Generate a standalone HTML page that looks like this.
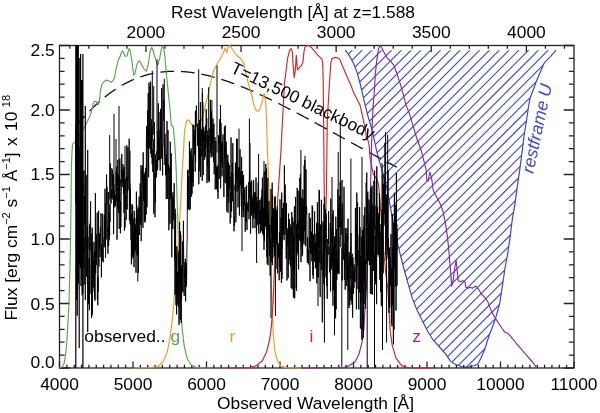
<!DOCTYPE html>
<html><head><meta charset="utf-8"><style>
html,body{margin:0;padding:0;background:#fff;width:600px;height:413px;overflow:hidden}
svg{display:block;will-change:transform}
</style></head><body>
<svg width="600" height="413" viewBox="0 0 600 413"><defs><clipPath id="bc"><path d="M345.20 50.20 L348.30 54.10 L351.40 59.20 L354.40 65.30 L357.00 72.40 L359.00 79.50 L360.50 85.00 L364.00 100.30 L367.80 115.50 L371.60 128.30 L374.20 139.70 L376.70 151.20 L379.30 161.30 L380.90 166.00 L383.30 174.50 L387.00 189.00 L390.60 208.40 L394.20 227.80 L397.80 244.70 L400.40 255.00 L403.70 268.00 L408.00 283.30 L412.40 298.60 L416.80 309.50 L422.20 320.40 L427.70 331.30 L433.10 340.00 L438.70 346.00 L446.30 354.90 L450.60 361.40 L456.00 364.70 L462.50 366.80 L467.90 367.30 L473.30 365.80 L477.70 364.20 L480.90 358.20 L485.00 348.50 L487.40 340.80 L489.60 334.30 L491.30 330.00 L495.40 318.80 L499.70 303.60 L503.00 281.80 L505.00 268.00 L507.50 255.00 L510.60 233.60 L512.00 221.30 L514.70 205.30 L517.30 186.70 L520.00 168.00 L522.10 152.00 L524.30 134.00 L526.60 120.00 L528.30 108.00 L530.00 98.30 L532.00 93.00 L534.00 87.70 L536.00 82.30 L538.70 75.70 L541.30 69.70 L543.30 65.00 L544.70 62.30 L546.70 60.30 L550.70 56.30 L556.00 50.20Z"/></clipPath></defs>
<path d="M1.09 372L333.09 40 M10.88 372L342.88 40 M20.68 372L352.68 40 M30.48 372L362.48 40 M40.27 372L372.27 40 M50.07 372L382.07 40 M59.87 372L391.87 40 M69.67 372L401.67 40 M79.46 372L411.46 40 M89.26 372L421.26 40 M99.06 372L431.06 40 M108.85 372L440.85 40 M118.65 372L450.65 40 M128.45 372L460.45 40 M138.24 372L470.24 40 M148.04 372L480.04 40 M157.84 372L489.84 40 M167.63 372L499.63 40 M177.43 372L509.43 40 M187.23 372L519.23 40 M197.03 372L529.03 40 M206.82 372L538.82 40 M216.62 372L548.62 40 M226.42 372L558.42 40 M236.21 372L568.21 40 M246.01 372L578.01 40 M255.81 372L587.81 40 M265.61 372L597.61 40 M275.40 372L607.40 40 M285.20 372L617.20 40 M295.00 372L627.00 40 M304.79 372L636.79 40 M314.59 372L646.59 40 M324.39 372L656.39 40 M334.18 372L666.18 40 M343.98 372L675.98 40 M353.78 372L685.78 40 M363.58 372L695.58 40 M373.37 372L705.37 40 M383.17 372L715.17 40 M392.97 372L724.97 40 M402.76 372L734.76 40 M412.56 372L744.56 40 M422.36 372L754.36 40 M432.15 372L764.15 40 M441.95 372L773.95 40 M451.75 372L783.75 40 M461.54 372L793.54 40 M471.34 372L803.34 40 M481.14 372L813.14 40 M490.94 372L822.94 40 M500.73 372L832.73 40 M510.53 372L842.53 40 M520.33 372L852.33 40 M530.12 372L862.12 40 M539.92 372L871.92 40 M549.72 372L881.72 40 M559.51 372L891.51 40" stroke="rgb(58,72,198)" stroke-width="1.1" fill="none" clip-path="url(#bc)"/>
<path d="M345.20 50.20 L348.30 54.10 L351.40 59.20 L354.40 65.30 L357.00 72.40 L359.00 79.50 L360.50 85.00 L364.00 100.30 L367.80 115.50 L371.60 128.30 L374.20 139.70 L376.70 151.20 L379.30 161.30 L380.90 166.00 L383.30 174.50 L387.00 189.00 L390.60 208.40 L394.20 227.80 L397.80 244.70 L400.40 255.00 L403.70 268.00 L408.00 283.30 L412.40 298.60 L416.80 309.50 L422.20 320.40 L427.70 331.30 L433.10 340.00 L438.70 346.00 L446.30 354.90 L450.60 361.40 L456.00 364.70 L462.50 366.80 L467.90 367.30 L473.30 365.80 L477.70 364.20 L480.90 358.20 L485.00 348.50 L487.40 340.80 L489.60 334.30 L491.30 330.00 L495.40 318.80 L499.70 303.60 L503.00 281.80 L505.00 268.00 L507.50 255.00 L510.60 233.60 L512.00 221.30 L514.70 205.30 L517.30 186.70 L520.00 168.00 L522.10 152.00 L524.30 134.00 L526.60 120.00 L528.30 108.00 L530.00 98.30 L532.00 93.00 L534.00 87.70 L536.00 82.30 L538.70 75.70 L541.30 69.70 L543.30 65.00 L544.70 62.30 L546.70 60.30 L550.70 56.30 L556.00 50.20" stroke="rgb(58,72,198)" stroke-width="1.2" fill="none"/>
<path d="M59.50 368.00v-6.5 M66.85 368.00v-3.3 M74.20 368.00v-3.3 M81.55 368.00v-3.3 M88.90 368.00v-3.3 M96.25 368.00v-3.3 M103.60 368.00v-3.3 M110.95 368.00v-3.3 M118.30 368.00v-3.3 M125.65 368.00v-3.3 M133.00 368.00v-6.5 M140.35 368.00v-3.3 M147.70 368.00v-3.3 M155.05 368.00v-3.3 M162.40 368.00v-3.3 M169.75 368.00v-3.3 M177.10 368.00v-3.3 M184.45 368.00v-3.3 M191.80 368.00v-3.3 M199.15 368.00v-3.3 M206.50 368.00v-6.5 M213.85 368.00v-3.3 M221.20 368.00v-3.3 M228.55 368.00v-3.3 M235.90 368.00v-3.3 M243.25 368.00v-3.3 M250.60 368.00v-3.3 M257.95 368.00v-3.3 M265.30 368.00v-3.3 M272.65 368.00v-3.3 M280.00 368.00v-6.5 M287.35 368.00v-3.3 M294.70 368.00v-3.3 M302.05 368.00v-3.3 M309.40 368.00v-3.3 M316.75 368.00v-3.3 M324.10 368.00v-3.3 M331.45 368.00v-3.3 M338.80 368.00v-3.3 M346.15 368.00v-3.3 M353.50 368.00v-6.5 M360.85 368.00v-3.3 M368.20 368.00v-3.3 M375.55 368.00v-3.3 M382.90 368.00v-3.3 M390.25 368.00v-3.3 M397.60 368.00v-3.3 M404.95 368.00v-3.3 M412.30 368.00v-3.3 M419.65 368.00v-3.3 M427.00 368.00v-6.5 M434.35 368.00v-3.3 M441.70 368.00v-3.3 M449.05 368.00v-3.3 M456.40 368.00v-3.3 M463.75 368.00v-3.3 M471.10 368.00v-3.3 M478.45 368.00v-3.3 M485.80 368.00v-3.3 M493.15 368.00v-3.3 M500.50 368.00v-6.5 M507.85 368.00v-3.3 M515.20 368.00v-3.3 M522.55 368.00v-3.3 M529.90 368.00v-3.3 M537.25 368.00v-3.3 M544.60 368.00v-3.3 M551.95 368.00v-3.3 M559.30 368.00v-3.3 M566.65 368.00v-3.3 M574.00 368.00v-6.5 M69.85 45.50v3.3 M88.87 45.50v3.3 M107.89 45.50v3.3 M126.91 45.50v3.3 M145.94 45.50v6.5 M164.96 45.50v3.3 M183.98 45.50v3.3 M203.00 45.50v3.3 M222.02 45.50v3.3 M241.04 45.50v6.5 M260.07 45.50v3.3 M279.09 45.50v3.3 M298.11 45.50v3.3 M317.13 45.50v3.3 M336.15 45.50v6.5 M355.18 45.50v3.3 M374.20 45.50v3.3 M393.22 45.50v3.3 M412.24 45.50v3.3 M431.26 45.50v6.5 M450.28 45.50v3.3 M469.31 45.50v3.3 M488.33 45.50v3.3 M507.35 45.50v3.3 M526.37 45.50v6.5 M545.39 45.50v3.3 M564.42 45.50v3.3 M59.50 368.00h10.3 M574.00 368.00h-10.3 M59.50 355.10h5.1 M574.00 355.10h-5.1 M59.50 342.20h5.1 M574.00 342.20h-5.1 M59.50 329.30h5.1 M574.00 329.30h-5.1 M59.50 316.40h5.1 M574.00 316.40h-5.1 M59.50 303.50h10.3 M574.00 303.50h-10.3 M59.50 290.60h5.1 M574.00 290.60h-5.1 M59.50 277.70h5.1 M574.00 277.70h-5.1 M59.50 264.80h5.1 M574.00 264.80h-5.1 M59.50 251.90h5.1 M574.00 251.90h-5.1 M59.50 239.00h10.3 M574.00 239.00h-10.3 M59.50 226.10h5.1 M574.00 226.10h-5.1 M59.50 213.20h5.1 M574.00 213.20h-5.1 M59.50 200.30h5.1 M574.00 200.30h-5.1 M59.50 187.40h5.1 M574.00 187.40h-5.1 M59.50 174.50h10.3 M574.00 174.50h-10.3 M59.50 161.60h5.1 M574.00 161.60h-5.1 M59.50 148.70h5.1 M574.00 148.70h-5.1 M59.50 135.80h5.1 M574.00 135.80h-5.1 M59.50 122.90h5.1 M574.00 122.90h-5.1 M59.50 110.00h10.3 M574.00 110.00h-10.3 M59.50 97.10h5.1 M574.00 97.10h-5.1 M59.50 84.20h5.1 M574.00 84.20h-5.1 M59.50 71.30h5.1 M574.00 71.30h-5.1 M59.50 58.40h5.1 M574.00 58.40h-5.1 M59.50 45.50h10.3 M574.00 45.50h-10.3" stroke="#222" stroke-width="1.3" fill="none"/>
<rect x="59.5" y="45.5" width="514.5" height="322.5" fill="none" stroke="#222" stroke-width="1.3"/>
<path d="M75.50 126.86 L76.00 126.25 L76.50 125.64 L77.00 125.04 L77.50 124.44 L78.00 123.84 L78.50 123.25 L79.00 122.66 L79.50 122.07 L80.00 121.49 L80.50 120.91 L81.00 120.34 L81.50 119.76 L82.00 119.20 L82.50 118.63 L83.00 118.07 L83.50 117.51 L84.00 116.96 L84.50 116.41 L85.00 115.86 L85.50 115.32 L86.00 114.78 L86.50 114.25 L87.00 113.71 L87.50 113.19 L88.00 112.66 L88.50 112.14 L89.00 111.62 L89.50 111.11 L90.00 110.60 L90.50 110.09 L91.00 109.59 L91.50 109.09 L92.00 108.59 L92.50 108.10 L93.00 107.61 L93.50 107.13 L94.00 106.64 L94.50 106.17 L95.00 105.69 L95.50 105.22 L96.00 104.75 L96.50 104.29 L97.00 103.83 L97.50 103.37 L98.00 102.92 L98.50 102.47 L99.00 102.03 L99.50 101.58 L100.00 101.15 L100.50 100.71 L101.00 100.28 L101.50 99.85 L102.00 99.43 L102.50 99.01 L103.00 98.59 L103.50 98.18 L104.00 97.76 L104.50 97.36 L105.00 96.95 L105.50 96.56 L106.00 96.16 L106.50 95.77 L107.00 95.38 L107.50 94.99 L108.00 94.61 L108.50 94.23 L109.00 93.85 L109.50 93.48 L110.00 93.11 L110.50 92.75 L111.00 92.39 L111.50 92.03 L112.00 91.68 L112.50 91.32 L113.00 90.98 L113.50 90.63 L114.00 90.29 L114.50 89.95 L115.00 89.62 L115.50 89.29 L116.00 88.96 L116.50 88.64 L117.00 88.32 L117.50 88.00 L118.00 87.68 L118.50 87.37 L119.00 87.07 L119.50 86.76 L120.00 86.46 L120.50 86.16 L121.00 85.87 L121.50 85.58 L122.00 85.29 L122.50 85.00 L123.00 84.72 L123.50 84.45 L124.00 84.17 L124.50 83.90 L125.00 83.63 L125.50 83.37 L126.00 83.10 L126.50 82.85 L127.00 82.59 L127.50 82.34 L128.00 82.09 L128.50 81.84 L129.00 81.60 L129.50 81.36 L130.00 81.12 L130.50 80.89 L131.00 80.66 L131.50 80.43 L132.00 80.21 L132.50 79.99 L133.00 79.77 L133.50 79.55 L134.00 79.34 L134.50 79.13 L135.00 78.93 L135.50 78.72 L136.00 78.52 L136.50 78.33 L137.00 78.13 L137.50 77.94 L138.00 77.75 L138.50 77.57 L139.00 77.38 L139.50 77.21 L140.00 77.03 L140.50 76.86 L141.00 76.69 L141.50 76.52 L142.00 76.35 L142.50 76.19 L143.00 76.03 L143.50 75.88 L144.00 75.72 L144.50 75.57 L145.00 75.42 L145.50 75.28 L146.00 75.14 L146.50 75.00 L147.00 74.86 L147.50 74.73 L148.00 74.60 L148.50 74.47 L149.00 74.34 L149.50 74.22 L150.00 74.10 L150.50 73.98 L151.00 73.87 L151.50 73.76 L152.00 73.65 L152.50 73.54 L153.00 73.44 L153.50 73.33 L154.00 73.24 L154.50 73.14 L155.00 73.05 L155.50 72.95 L156.00 72.87 L156.50 72.78 L157.00 72.70 L157.50 72.62 L158.00 72.54 L158.50 72.46 L159.00 72.39 L159.50 72.32 L160.00 72.25 L160.50 72.18 L161.00 72.12 L161.50 72.06 L162.00 72.00 L162.50 71.94 L163.00 71.89 L163.50 71.84 L164.00 71.79 L164.50 71.74 L165.00 71.70 L165.50 71.66 L166.00 71.62 L166.50 71.58 L167.00 71.55 L167.50 71.52 L168.00 71.49 L168.50 71.46 L169.00 71.43 L169.50 71.41 L170.00 71.39 L170.50 71.37 L171.00 71.35 L171.50 71.34 L172.00 71.33 L172.50 71.32 L173.00 71.31 L173.50 71.30 L174.00 71.30 L174.50 71.30 L175.00 71.30 L175.50 71.30 L176.00 71.31 L176.50 71.32 L177.00 71.33 L177.50 71.34 L178.00 71.35 L178.50 71.37 L179.00 71.39 L179.50 71.41 L180.00 71.43 L180.50 71.45 L181.00 71.48 L181.50 71.51 L182.00 71.54 L182.50 71.57 L183.00 71.60 L183.50 71.64 L184.00 71.68 L184.50 71.72 L185.00 71.76 L185.50 71.80 L186.00 71.85 L186.50 71.90 L187.00 71.95 L187.50 72.00 L188.00 72.05 L188.50 72.11 L189.00 72.17 L189.50 72.22 L190.00 72.28 L190.50 72.35 L191.00 72.41 L191.50 72.48 L192.00 72.55 L192.50 72.62 L193.00 72.69 L193.50 72.76 L194.00 72.84 L194.50 72.91 L195.00 72.99 L195.50 73.07 L196.00 73.15 L196.50 73.24 L197.00 73.32 L197.50 73.41 L198.00 73.50 L198.50 73.59 L199.00 73.68 L199.50 73.78 L200.00 73.87 L200.50 73.97 L201.00 74.07 L201.50 74.17 L202.00 74.27 L202.50 74.37 L203.00 74.48 L203.50 74.59 L204.00 74.69 L204.50 74.80 L205.00 74.91 L205.50 75.03 L206.00 75.14 L206.50 75.26 L207.00 75.37 L207.50 75.49 L208.00 75.61 L208.50 75.74 L209.00 75.86 L209.50 75.98 L210.00 76.11 L210.50 76.24 L211.00 76.37 L211.50 76.50 L212.00 76.63 L212.50 76.76 L213.00 76.90 L213.50 77.03 L214.00 77.17 L214.50 77.31 L215.00 77.45 L215.50 77.59 L216.00 77.73 L216.50 77.88 L217.00 78.02 L217.50 78.17 L218.00 78.32 L218.50 78.47 L219.00 78.62 L219.50 78.77 L220.00 78.92 L220.50 79.08 L221.00 79.23 L221.50 79.39 L222.00 79.55 L222.50 79.71 L223.00 79.87 L223.50 80.03 L224.00 80.19 L224.50 80.36 L225.00 80.52 L225.50 80.69 L226.00 80.86 L226.50 81.03 L227.00 81.20 L227.50 81.37 L228.00 81.54 L228.50 81.71 L229.00 81.89 L229.50 82.06 L230.00 82.24 L230.50 82.42 L231.00 82.60 L231.50 82.78 L232.00 82.96 L232.50 83.14 L233.00 83.32 L233.50 83.51 L234.00 83.69 L234.50 83.88 L235.00 84.06 L235.50 84.25 L236.00 84.44 L236.50 84.63 L237.00 84.82 L237.50 85.02 L238.00 85.21 L238.50 85.40 L239.00 85.60 L239.50 85.79 L240.00 85.99 L240.50 86.19 L241.00 86.39 L241.50 86.59 L242.00 86.79 L242.50 86.99 L243.00 87.19 L243.50 87.40 L244.00 87.60 L244.50 87.81 L245.00 88.01 L245.50 88.22 L246.00 88.43 L246.50 88.64 L247.00 88.85 L247.50 89.06 L248.00 89.27 L248.50 89.48 L249.00 89.69 L249.50 89.91 L250.00 90.12 L250.50 90.34 L251.00 90.55 L251.50 90.77 L252.00 90.99 L252.50 91.20 L253.00 91.42 L253.50 91.64 L254.00 91.86 L254.50 92.09 L255.00 92.31 L255.50 92.53 L256.00 92.75 L256.50 92.98 L257.00 93.20 L257.50 93.43 L258.00 93.66 L258.50 93.88 L259.00 94.11 L259.50 94.34 L260.00 94.57 L260.50 94.80 L261.00 95.03 L261.50 95.26 L262.00 95.49 L262.50 95.72 L263.00 95.96 L263.50 96.19 L264.00 96.42 L264.50 96.66 L265.00 96.90 L265.50 97.13 L266.00 97.37 L266.50 97.61 L267.00 97.84 L267.50 98.08 L268.00 98.32 L268.50 98.56 L269.00 98.80 L269.50 99.04 L270.00 99.28 L270.50 99.53 L271.00 99.77 L271.50 100.01 L272.00 100.25 L272.50 100.50 L273.00 100.74 L273.50 100.99 L274.00 101.23 L274.50 101.48 L275.00 101.73 L275.50 101.97 L276.00 102.22 L276.50 102.47 L277.00 102.72 L277.50 102.97 L278.00 103.22 L278.50 103.47 L279.00 103.72 L279.50 103.97 L280.00 104.22 L280.50 104.47 L281.00 104.72 L281.50 104.98 L282.00 105.23 L282.50 105.48 L283.00 105.74 L283.50 105.99 L284.00 106.25 L284.50 106.50 L285.00 106.76 L285.50 107.01 L286.00 107.27 L286.50 107.53 L287.00 107.78 L287.50 108.04 L288.00 108.30 L288.50 108.56 L289.00 108.81 L289.50 109.07 L290.00 109.33 L290.50 109.59 L291.00 109.85 L291.50 110.11 L292.00 110.37 L292.50 110.63 L293.00 110.90 L293.50 111.16 L294.00 111.42 L294.50 111.68 L295.00 111.94 L295.50 112.21 L296.00 112.47 L296.50 112.73 L297.00 113.00 L297.50 113.26 L298.00 113.53 L298.50 113.79 L299.00 114.06 L299.50 114.32 L300.00 114.59 L300.50 114.85 L301.00 115.12 L301.50 115.38 L302.00 115.65 L302.50 115.92 L303.00 116.18 L303.50 116.45 L304.00 116.72 L304.50 116.99 L305.00 117.25 L305.50 117.52 L306.00 117.79 L306.50 118.06 L307.00 118.33 L307.50 118.60 L308.00 118.87 L308.50 119.14 L309.00 119.41 L309.50 119.68 L310.00 119.95 L310.50 120.22 L311.00 120.49 L311.50 120.76 L312.00 121.03 L312.50 121.30 L313.00 121.57 L313.50 121.84 L314.00 122.11 L314.50 122.38 L315.00 122.65 L315.50 122.93 L316.00 123.20 L316.50 123.47 L317.00 123.74 L317.50 124.02 L318.00 124.29 L318.50 124.56 L319.00 124.83 L319.50 125.11 L320.00 125.38 L320.50 125.65 L321.00 125.93 L321.50 126.20 L322.00 126.47 L322.50 126.75 L323.00 127.02 L323.50 127.29 L324.00 127.57 L324.50 127.84 L325.00 128.12 L325.50 128.39 L326.00 128.66 L326.50 128.94 L327.00 129.21 L327.50 129.49 L328.00 129.76 L328.50 130.04 L329.00 130.31 L329.50 130.59 L330.00 130.86 L330.50 131.14 L331.00 131.41 L331.50 131.69 L332.00 131.96 L332.50 132.24 L333.00 132.51 L333.50 132.79 L334.00 133.06 L334.50 133.34 L335.00 133.61 L335.50 133.89 L336.00 134.16 L336.50 134.44 L337.00 134.71 L337.50 134.99 L338.00 135.26 L338.50 135.54 L339.00 135.82 L339.50 136.09 L340.00 136.37 L340.50 136.64 L341.00 136.92 L341.50 137.19 L342.00 137.47 L342.50 137.74 L343.00 138.02 L343.50 138.29 L344.00 138.57 L344.50 138.85 L345.00 139.12 L345.50 139.40 L346.00 139.67 L346.50 139.95 L347.00 140.22 L347.50 140.50 L348.00 140.77 L348.50 141.05 L349.00 141.32 L349.50 141.60 L350.00 141.87 L350.50 142.15 L351.00 142.42 L351.50 142.70 L352.00 142.97 L352.50 143.25 L353.00 143.52 L353.50 143.80 L354.00 144.07 L354.50 144.35 L355.00 144.62 L355.50 144.90 L356.00 145.17 L356.50 145.45 L357.00 145.72 L357.50 145.99 L358.00 146.27 L358.50 146.54 L359.00 146.82 L359.50 147.09 L360.00 147.36 L360.50 147.64 L361.00 147.91 L361.50 148.19 L362.00 148.46 L362.50 148.73 L363.00 149.01 L363.50 149.28 L364.00 149.55 L364.50 149.83 L365.00 150.10 L365.50 150.37 L366.00 150.64 L366.50 150.92 L367.00 151.19 L367.50 151.46 L368.00 151.74 L368.50 152.01 L369.00 152.28 L369.50 152.55 L370.00 152.82 L370.50 153.10 L371.00 153.37 L371.50 153.64 L372.00 153.91 L372.50 154.18 L373.00 154.45 L373.50 154.72 L374.00 154.99 L374.50 155.27 L375.00 155.54 L375.50 155.81 L376.00 156.08 L376.50 156.35 L377.00 156.62 L377.50 156.89 L378.00 157.16 L378.50 157.43 L379.00 157.70 L379.50 157.97 L380.00 158.24 L380.50 158.50 L381.00 158.77 L381.50 159.04 L382.00 159.31 L382.50 159.58 L383.00 159.85 L383.50 160.12 L384.00 160.38 L384.50 160.65 L385.00 160.92 L385.50 161.19 L386.00 161.46 L386.50 161.72 L387.00 161.99 L387.50 162.26 L388.00 162.52 L388.50 162.79 L389.00 163.06 L389.50 163.32 L390.00 163.59 L390.50 163.85 L391.00 164.12 L391.50 164.39 L392.00 164.65 L392.50 164.92 L393.00 165.18 L393.50 165.45 L394.00 165.71 L394.50 165.98 L395.00 166.24 L395.50 166.50 L396.00 166.77 L396.50 167.03 L397.00 167.30" stroke="#111" stroke-width="1.3" fill="none" stroke-dasharray="13.6 7.02" stroke-dashoffset="20.15"/>
<path d="M59.50 368.00 L61.00 367.50 L62.50 366.50 L63.70 364.50 L64.60 361.00 L65.20 357.00 L65.80 353.00 L66.60 345.00 L67.30 333.90 L69.00 303.40 L70.40 250.00 L71.10 200.00 L71.40 166.00 L71.90 154.00 L72.50 144.50 L73.70 142.70 L75.60 142.10 L79.00 137.00 L81.80 131.00 L83.70 128.80 L85.90 124.40 L88.80 118.60 L91.00 112.80 L93.20 104.00 L94.60 101.20 L96.50 101.90 L98.30 104.80 L99.40 101.20 L100.40 91.00 L101.90 84.40 L104.10 81.50 L106.30 80.10 L108.00 80.60 L109.60 81.60 L111.00 82.30 L112.80 81.00 L114.50 77.70 L116.30 68.00 L118.10 60.70 L119.90 57.10 L121.10 53.50 L122.30 51.00 L123.60 52.30 L125.00 56.30 L127.00 56.00 L129.00 48.70 L130.10 50.00 L131.70 60.00 L133.70 75.30 L135.00 73.30 L137.00 64.00 L139.00 60.70 L141.00 63.30 L143.70 68.70 L146.30 71.30 L148.30 64.00 L150.30 50.70 L151.70 47.30 L153.00 50.70 L155.00 57.30 L157.70 65.30 L159.70 58.70 L161.00 50.70 L162.30 46.00 L163.70 48.00 L165.00 57.30 L166.30 73.30 L167.70 86.70 L168.50 95.00 L170.10 110.60 L171.20 125.00 L173.20 127.00 L174.30 137.30 L175.30 151.70 L176.30 172.30 L177.10 200.00 L178.00 227.00 L179.30 265.00 L180.70 302.70 L182.00 326.70 L184.10 345.30 L187.30 358.70 L191.30 365.30 L196.70 367.60 L205.00 368.00 L211.70 368.00" stroke="rgb(88,165,80)" stroke-width="1.15" fill="none" stroke-linejoin="round"/>
<path d="M133.30 368.00 L150.00 367.60 L158.00 366.50 L163.30 361.50 L167.30 352.00 L170.00 338.00 L172.70 316.00 L174.50 294.00 L176.10 274.00 L177.50 255.00 L179.00 230.00 L180.60 204.50 L182.00 175.00 L183.50 151.70 L184.50 131.20 L186.60 120.90 L188.70 119.80 L190.70 122.90 L192.50 126.00 L195.00 127.00 L198.00 125.00 L200.00 123.00 L202.00 119.00 L205.10 106.50 L208.20 94.10 L209.50 88.00 L211.70 77.50 L214.00 70.00 L217.00 64.00 L220.00 59.50 L223.00 53.50 L225.20 48.20 L226.70 52.70 L228.20 47.50 L229.30 45.50 L231.20 47.50 L234.20 52.00 L237.20 55.70 L241.00 58.70 L244.00 64.00 L245.10 70.20 L247.60 80.30 L250.20 90.50 L251.70 95.20 L253.70 104.30 L256.30 110.40 L258.30 111.40 L260.30 108.40 L262.40 100.30 L263.90 93.60 L264.90 95.20 L265.90 105.30 L266.50 120.00 L267.60 153.90 L269.00 190.00 L269.50 230.00 L270.50 272.00 L272.00 300.00 L273.20 333.90 L274.90 350.80 L277.50 361.00 L280.80 366.10 L286.00 367.60 L295.00 368.00 L302.00 368.00" stroke="rgb(235,155,40)" stroke-width="1.15" fill="none" stroke-linejoin="round"/>
<path d="M228.30 368.00 L248.60 367.60 L255.40 366.10 L262.20 361.00 L266.40 352.50 L269.80 339.00 L271.50 325.40 L273.20 300.00 L274.80 260.00 L276.60 219.00 L278.30 190.00 L280.80 153.90 L282.50 120.00 L283.60 100.00 L284.60 82.00 L286.10 70.50 L287.60 58.30 L289.70 50.20 L291.20 48.60 L292.20 51.20 L293.20 66.40 L294.20 77.60 L295.30 70.50 L296.30 55.30 L297.30 68.50 L297.80 70.00 L299.30 67.50 L301.40 65.40 L302.90 62.40 L303.90 52.20 L304.90 47.10 L307.00 45.60 L309.50 45.60 L311.50 47.60 L314.60 51.20 L317.60 54.80 L321.70 58.80 L322.70 62.40 L323.20 82.00 L323.60 120.00 L324.30 200.00 L324.10 240.00 L324.20 252.00 L325.00 244.00 L326.40 190.00 L327.30 120.00 L329.50 82.00 L330.90 62.40 L332.00 58.60 L335.10 57.30 L338.10 58.10 L340.20 60.20 L342.20 65.30 L345.30 72.40 L348.30 79.50 L351.40 86.60 L353.40 92.00 L356.40 98.00 L360.20 105.40 L364.00 123.20 L365.50 130.00 L366.60 138.00 L368.60 142.00 L369.30 147.30 L370.00 156.60 L371.30 164.60 L373.30 173.90 L376.00 177.90 L377.30 180.50 L378.60 185.00 L380.00 200.00 L382.00 230.00 L384.00 255.00 L386.00 275.00 L388.00 290.00 L390.00 328.80 L392.00 344.30 L395.90 357.80 L401.70 365.60 L407.50 367.50 L415.00 368.00 L433.70 368.00" stroke="rgb(205,38,38)" stroke-width="1.15" fill="none" stroke-linejoin="round"/>
<path d="M301.50 368.00 L343.60 367.50 L349.40 365.60 L355.20 361.70 L359.00 354.00 L362.00 342.30 L363.90 328.80 L364.90 309.40 L365.90 295.80 L367.00 280.00 L368.50 240.00 L370.00 200.00 L370.60 185.00 L371.30 156.60 L372.00 130.00 L372.90 110.40 L373.60 100.00 L374.40 90.80 L375.30 73.90 L377.00 58.60 L378.60 48.50 L380.00 45.50 L381.20 46.80 L384.60 53.60 L387.10 57.80 L390.50 61.20 L393.90 65.40 L396.40 72.20 L399.80 82.40 L403.20 94.20 L405.80 104.40 L409.30 113.30 L413.30 126.70 L417.30 140.00 L421.30 150.70 L424.00 161.30 L426.10 169.30 L426.70 180.00 L428.00 181.30 L429.90 172.00 L431.50 177.30 L433.30 190.70 L437.60 198.70 L440.90 205.30 L443.10 211.80 L445.30 222.70 L447.00 233.60 L448.50 246.60 L449.60 259.70 L450.70 273.10 L451.80 286.10 L452.90 281.80 L455.00 266.50 L456.10 260.00 L457.20 270.90 L458.30 280.70 L460.50 281.80 L462.70 280.70 L464.90 281.80 L465.90 287.20 L468.10 288.30 L470.30 287.20 L472.50 288.30 L475.80 286.10 L477.90 288.30 L481.20 293.80 L484.50 297.00 L487.70 301.40 L491.00 310.10 L494.30 316.60 L498.60 323.20 L503.00 329.70 L504.80 332.20 L508.00 333.30 L510.60 336.30 L516.40 343.50 L521.50 349.30 L525.30 353.80 L532.90 362.50 L536.70 367.80" stroke="rgb(135,40,160)" stroke-width="1.15" fill="none" stroke-linejoin="round"/>
<path d="M75.60 128.88 L75.80 196.30 L76.00 202.49 L76.20 121.97 L76.40 128.69 L76.60 257.49 L76.80 134.14 L77.00 202.87 L77.20 315.68 L77.40 285.03 L77.60 198.41 L77.80 231.61 L78.00 189.21 L78.20 225.87 L78.40 283.46 L78.60 224.49 L78.80 247.49 L79.00 189.19 L79.20 211.91 L79.40 211.22 L79.60 264.63 L79.80 147.27 L80.00 191.74 L80.20 210.11 L80.40 227.60 L80.60 162.31 L80.80 188.19 L81.00 286.03 L81.20 248.69 L81.40 168.44 L81.60 169.17 L81.80 182.52 L82.00 282.67 L82.20 295.24 L82.40 226.53 L82.60 228.03 L82.80 293.19 L83.00 240.39 L83.20 170.31 L83.40 253.74 L83.60 238.06 L83.80 267.75 L84.00 237.78 L84.20 284.48 L84.40 195.34 L84.60 203.25 L84.80 224.46 L85.00 170.81 L85.20 193.86 L85.40 183.94 L85.60 233.48 L85.80 248.89 L86.00 212.84 L86.20 174.85 L86.40 274.85 L86.60 276.70 L86.80 243.22 L87.00 241.94 L87.20 234.74 L87.40 285.04 L87.60 226.87 L87.80 249.39 L88.00 236.88 L88.20 280.32 L88.40 281.58 L88.60 304.21 L88.80 293.76 L89.00 258.21 L89.20 261.91 L89.40 310.22 L89.60 224.36 L89.80 234.58 L90.00 251.17 L90.20 221.60 L90.40 220.24 L90.60 201.39 L90.80 252.14 L91.00 293.66 L91.20 265.71 L91.40 266.88 L91.60 233.59 L91.80 244.99 L92.00 313.56 L92.20 227.57 L92.40 256.87 L92.60 265.97 L92.80 253.66 L93.00 263.12 L93.20 287.55 L93.40 260.73 L93.60 278.29 L93.80 261.54 L94.00 241.87 L94.20 291.94 L94.40 263.11 L94.60 298.85 L94.80 250.92 L95.00 300.66 L95.20 247.14 L95.40 193.15 L95.60 273.32 L95.80 261.42 L96.00 264.85 L96.20 258.95 L96.40 265.08 L96.60 234.26 L96.80 258.09 L97.00 245.69 L97.20 212.58 L97.40 299.44 L97.60 277.66 L97.80 305.23 L98.00 276.61 L98.20 291.53 L98.40 237.23 L98.60 210.62 L98.80 264.24 L99.00 266.71 L99.20 232.95 L99.40 249.32 L99.60 247.96 L99.80 235.31 L100.00 244.20 L100.20 256.97 L100.40 226.97 L100.60 240.71 L100.80 231.88 L101.00 213.17 L101.20 239.26 L101.40 277.38 L101.60 244.41 L101.80 249.02 L102.00 250.49 L102.20 259.70 L102.40 260.81 L102.60 213.75 L102.80 218.36 L103.00 259.07 L103.20 262.33 L103.40 242.88 L103.60 241.13 L103.80 238.26 L104.00 236.40 L104.20 229.26 L104.40 214.54 L104.60 237.21 L104.80 247.29 L105.00 188.82 L105.20 233.02 L105.40 244.20 L105.60 203.06 L105.80 203.12 L106.00 228.55 L106.20 239.54 L106.40 182.01 L106.60 174.66 L106.80 204.78 L107.00 186.70 L107.20 224.02 L107.40 231.24 L107.60 228.08 L107.80 248.24 L108.00 253.64 L108.20 194.26 L108.40 192.13 L108.60 245.95 L108.80 224.19 L109.00 213.57 L109.20 240.20 L109.40 213.45 L109.60 235.31 L109.80 204.16 L110.00 221.96 L110.20 163.41 L110.40 170.56 L110.60 171.48 L110.80 199.16 L111.00 203.59 L111.20 203.16 L111.40 189.90 L111.60 198.17 L111.80 168.18 L112.00 172.31 L112.20 185.40 L112.40 169.90 L112.60 176.39 L112.80 199.44 L113.00 176.50 L113.20 195.93 L113.40 174.27 L113.60 234.18 L113.80 183.96 L114.00 202.91 L114.20 205.38 L114.40 190.88 L114.60 196.85 L114.80 207.34 L115.00 204.29 L115.20 195.76 L115.40 205.56 L115.60 194.55 L115.80 193.57 L116.00 180.38 L116.20 171.36 L116.40 200.91 L116.60 166.63 L116.80 207.31 L117.00 239.79 L117.20 228.12 L117.40 174.09 L117.60 180.77 L117.80 159.81 L118.00 209.29 L118.20 173.85 L118.40 206.82 L118.60 185.96 L118.80 213.02 L119.00 177.77 L119.20 228.96 L119.40 184.06 L119.60 202.50 L119.80 158.59 L120.00 185.64 L120.20 179.60 L120.40 233.25 L120.60 201.56 L120.80 227.62 L121.00 217.55 L121.20 197.55 L121.40 191.73 L121.60 160.63 L121.80 154.02 L122.00 182.32 L122.20 169.82 L122.40 175.71 L122.60 178.09 L122.80 187.13 L123.00 164.02 L123.20 180.15 L123.40 168.49 L123.60 193.48 L123.80 177.29 L124.00 213.14 L124.20 166.68 L124.40 230.55 L124.60 224.04 L124.80 217.17 L125.00 227.52 L125.20 183.72 L125.40 179.06 L125.60 208.73 L125.80 195.04 L126.00 208.37 L126.20 219.73 L126.40 176.20 L126.60 179.83 L126.80 145.28 L127.00 158.29 L127.20 209.49 L127.40 177.84 L127.60 192.60 L127.80 152.45 L128.00 147.44 L128.20 159.77 L128.40 175.94 L128.60 179.58 L128.80 180.12 L129.00 189.81 L129.20 138.63 L129.40 220.50 L129.60 190.28 L129.80 183.62 L130.00 212.89 L130.20 224.37 L130.40 188.75 L130.60 203.79 L130.80 218.05 L131.00 239.64 L131.20 213.79 L131.40 264.38 L131.60 238.63 L131.80 259.55 L132.00 204.16 L132.20 255.35 L132.40 225.06 L132.60 205.55 L132.80 257.18 L133.00 253.93 L133.20 218.41 L133.40 247.47 L133.60 257.27 L133.80 231.45 L134.00 267.20 L134.20 210.90 L134.40 253.59 L134.60 247.50 L134.80 218.20 L135.00 230.77 L135.20 250.99 L135.40 225.35 L135.60 249.19 L135.80 224.36 L136.00 272.71 L136.20 250.01 L136.40 191.64 L136.60 223.94 L136.80 205.43 L137.00 254.90 L137.20 219.83 L137.40 253.91 L137.60 255.98 L137.80 208.85 L138.00 216.14 L138.20 239.09 L138.40 272.84 L138.60 207.56 L138.80 220.06 L139.00 206.77 L139.20 196.56 L139.40 235.02 L139.60 228.69 L139.80 213.64 L140.00 208.66 L140.20 183.51 L140.40 215.04 L140.60 215.46 L140.80 225.01 L141.00 165.17 L141.20 241.13 L141.40 216.93 L141.60 190.27 L141.80 189.26 L142.00 169.31 L142.20 180.07 L142.40 165.55 L142.60 174.89 L142.80 223.81 L143.00 227.81 L143.20 152.32 L143.40 200.81 L143.60 186.97 L143.80 175.24 L144.00 183.80 L144.20 198.68 L144.40 221.41 L144.60 173.62 L144.80 201.67 L145.00 222.58 L145.20 171.68 L145.40 220.19 L145.60 190.92 L145.80 167.84 L146.00 178.69 L146.20 214.47 L146.40 139.91 L146.60 126.14 L146.80 186.02 L147.00 207.39 L147.20 189.50 L147.40 137.67 L147.60 110.50 L147.80 140.07 L148.00 148.39 L148.20 93.17 L148.40 136.18 L148.60 177.26 L148.80 146.06 L149.00 82.54 L149.20 109.99 L149.40 127.79 L149.60 135.40 L149.80 132.21 L150.00 146.76 L150.20 117.24 L150.40 111.32 L150.60 81.62 L150.80 153.62 L151.00 147.41 L151.20 131.28 L151.40 157.39 L151.60 119.28 L151.80 135.04 L152.00 125.87 L152.20 164.23 L152.40 149.66 L152.60 164.58 L152.80 171.99 L153.00 156.32 L153.20 139.13 L153.40 142.25 L153.60 173.17 L153.80 213.68 L154.00 176.01 L154.20 154.26 L154.40 122.18 L154.60 143.44 L154.80 172.02 L155.00 217.24 L155.20 172.95 L155.40 202.51 L155.60 154.37 L155.80 171.08 L156.00 170.30 L156.20 159.55 L156.40 177.40 L156.60 173.60 L156.80 151.40 L157.00 154.87 L157.20 131.81 L157.40 141.28 L157.60 170.23 L157.80 160.28 L158.00 127.01 L158.20 108.00 L158.40 103.28 L158.60 160.32 L158.80 120.73 L159.00 112.03 L159.20 156.96 L159.40 138.12 L159.60 159.73 L159.80 148.43 L160.00 129.52 L160.20 170.65 L160.40 125.87 L160.60 108.82 L160.80 137.86 L161.00 110.93 L161.20 143.20 L161.40 158.66 L161.60 88.27 L161.80 106.03 L162.00 147.09 L162.20 154.44 L162.40 145.95 L162.60 175.31 L162.80 105.64 L163.00 84.38 L163.20 100.82 L163.40 116.45 L163.60 120.75 L163.80 99.89 L164.00 142.95 L164.20 146.20 L164.40 141.24 L164.60 138.95 L164.80 156.83 L165.00 133.85 L165.20 148.07 L165.40 154.30 L165.60 175.27 L165.80 157.50 L166.00 167.86 L166.20 199.12 L166.40 190.69 L166.60 154.17 L166.80 165.74 L167.00 121.14 L167.20 169.54 L167.40 198.98 L167.60 186.56 L167.80 164.19 L168.00 130.25 L168.20 173.67 L168.40 164.10 L168.60 210.49 L168.80 230.29 L169.00 228.22 L169.20 214.90 L169.40 175.37 L169.60 182.90 L169.80 166.71 L170.00 223.75 L170.20 141.69 L170.40 145.56 L170.60 199.16 L170.80 177.56 L171.00 196.46 L171.20 153.28 L171.40 166.36 L171.60 234.32 L171.80 257.24 L172.00 215.99 L172.20 211.78 L172.40 195.59 L172.60 209.12 L172.80 229.09 L173.00 192.27 L173.20 206.06 L173.40 220.10 L173.60 199.29 L173.80 208.27 L174.00 196.27 L174.20 183.26 L174.40 218.56 L174.60 258.57 L174.80 239.19 L175.00 294.63 L175.20 208.76 L175.40 266.58 L175.60 213.82 L175.80 285.91 L176.00 305.33 L176.20 253.78 L176.40 257.82 L176.60 314.39 L176.80 246.35 L177.00 251.11 L177.20 296.70 L177.40 271.93 L177.60 276.80 L177.80 305.14 L178.00 281.02 L178.20 299.45 L178.40 306.56 L178.60 252.24 L178.80 273.31 L179.00 324.80 L179.20 250.35 L179.40 280.33 L179.60 222.00 L179.80 256.98 L180.00 255.68 L180.20 319.97 L180.40 231.09 L180.60 281.08 L180.80 234.54 L181.00 259.05 L181.20 322.96 L181.40 267.79 L181.60 299.57 L181.80 265.29 L182.00 292.01 L182.20 278.21 L182.40 277.26 L182.60 241.31 L182.80 284.13 L183.00 292.36 L183.20 280.41 L183.40 220.77 L183.60 251.25 L183.80 261.61 L184.00 265.73 L184.20 295.99 L184.40 269.06 L184.60 277.22 L184.80 262.27 L185.00 262.84 L185.20 286.25 L185.40 258.77 L185.60 301.44 L185.80 267.90 L186.00 287.25 L186.20 263.03 L186.40 285.37 L186.60 282.86 L186.80 259.57 L187.00 244.06 L187.20 239.09 L187.40 183.17 L187.60 170.64 L187.80 209.57 L188.00 169.66 L188.20 196.67 L188.40 208.44 L188.60 179.19 L188.80 176.15 L189.00 186.42 L189.20 210.17 L189.40 141.58 L189.60 155.67 L189.80 173.07 L190.00 157.14 L190.20 209.25 L190.40 200.45 L190.60 151.02 L190.80 183.11 L191.00 156.55 L191.20 148.39 L191.40 167.31 L191.60 196.58 L191.80 155.08 L192.00 193.76 L192.20 159.94 L192.40 182.81 L192.60 179.56 L192.80 159.23 L193.00 124.48 L193.20 186.43 L193.40 156.12 L193.60 154.28 L193.80 125.38 L194.00 145.68 L194.20 136.22 L194.40 148.93 L194.60 154.62 L194.80 129.87 L195.00 136.00 L195.20 171.59 L195.40 110.72 L195.60 162.51 L195.80 139.58 L196.00 122.42 L196.20 119.05 L196.40 105.54 L196.60 113.70 L196.80 126.39 L197.00 125.30 L197.20 126.10 L197.40 123.78 L197.60 145.90 L197.80 128.89 L198.00 127.06 L198.20 131.03 L198.40 138.55 L198.60 141.20 L198.80 184.27 L199.00 134.47 L199.20 171.32 L199.40 135.78 L199.60 120.17 L199.80 160.59 L200.00 137.30 L200.20 156.23 L200.40 102.04 L200.60 176.92 L200.80 143.70 L201.00 146.27 L201.20 141.36 L201.40 139.86 L201.60 129.20 L201.80 156.35 L202.00 149.02 L202.20 180.75 L202.40 93.14 L202.60 150.77 L202.80 102.24 L203.00 138.95 L203.20 175.04 L203.40 157.16 L203.60 137.19 L203.80 127.26 L204.00 141.65 L204.20 136.82 L204.40 131.22 L204.60 159.68 L204.80 157.81 L205.00 135.28 L205.20 156.70 L205.40 141.45 L205.60 125.20 L205.80 147.93 L206.00 143.96 L206.20 109.16 L206.40 132.96 L206.60 124.59 L206.80 118.20 L207.00 183.12 L207.20 137.83 L207.40 134.80 L207.60 166.48 L207.80 130.73 L208.00 163.66 L208.20 179.82 L208.40 152.24 L208.60 135.84 L208.80 138.56 L209.00 182.32 L209.20 178.23 L209.40 180.72 L209.60 157.83 L209.80 128.31 L210.00 134.98 L210.20 140.80 L210.40 99.69 L210.60 153.39 L210.80 135.98 L211.00 111.40 L211.20 157.43 L211.40 110.46 L211.60 113.96 L211.80 120.59 L212.00 131.70 L212.20 156.54 L212.40 125.37 L212.60 125.11 L212.80 143.51 L213.00 118.51 L213.20 140.71 L213.40 148.20 L213.60 161.98 L213.80 126.97 L214.00 123.63 L214.20 174.34 L214.40 162.00 L214.60 166.37 L214.80 167.26 L215.00 137.20 L215.20 189.39 L215.40 178.70 L215.60 172.73 L215.80 140.99 L216.00 170.67 L216.20 182.00 L216.40 189.24 L216.60 166.69 L216.80 184.63 L217.00 178.73 L217.20 167.51 L217.40 178.23 L217.60 192.00 L217.80 165.54 L218.00 198.67 L218.20 168.33 L218.40 148.50 L218.60 135.34 L218.80 144.03 L219.00 135.47 L219.20 178.77 L219.40 134.46 L219.60 127.26 L219.80 119.12 L220.00 135.49 L220.20 152.62 L220.40 139.47 L220.60 188.39 L220.80 173.71 L221.00 122.90 L221.20 162.80 L221.40 143.76 L221.60 150.91 L221.80 144.43 L222.00 176.37 L222.20 141.36 L222.40 167.50 L222.60 164.67 L222.80 146.48 L223.00 134.34 L223.20 155.87 L223.40 169.19 L223.60 175.86 L223.80 197.08 L224.00 196.68 L224.20 153.27 L224.40 126.84 L224.60 158.19 L224.80 145.19 L225.00 182.59 L225.20 125.48 L225.40 162.10 L225.60 164.09 L225.80 163.07 L226.00 183.53 L226.20 141.63 L226.40 152.83 L226.60 153.89 L226.80 211.44 L227.00 171.31 L227.20 189.21 L227.40 159.64 L227.60 196.57 L227.80 154.74 L228.00 212.78 L228.20 177.79 L228.40 183.31 L228.60 162.38 L228.80 202.67 L229.00 192.34 L229.20 168.68 L229.40 165.05 L229.60 171.20 L229.80 189.15 L230.00 176.44 L230.20 223.65 L230.40 192.06 L230.60 198.28 L230.80 218.03 L231.00 137.44 L231.20 170.77 L231.40 179.83 L231.60 211.41 L231.80 172.22 L232.00 178.12 L232.20 191.57 L232.40 162.66 L232.60 201.24 L232.80 143.18 L233.00 174.94 L233.20 173.86 L233.40 186.40 L233.60 215.57 L233.80 216.56 L234.00 231.28 L234.20 215.54 L234.40 226.04 L234.60 215.48 L234.80 199.00 L235.00 184.96 L235.20 190.51 L235.40 162.58 L235.60 203.72 L235.80 222.39 L236.00 218.63 L236.20 165.90 L236.40 177.64 L236.60 138.75 L236.80 176.72 L237.00 191.74 L237.20 138.79 L237.40 180.87 L237.60 182.04 L237.80 179.85 L238.00 207.38 L238.20 188.11 L238.40 167.90 L238.60 189.75 L238.80 180.13 L239.00 176.03 L239.20 166.65 L239.40 215.54 L239.60 192.18 L239.80 189.30 L240.00 149.14 L240.20 176.92 L240.40 185.11 L240.60 171.09 L240.80 178.28 L241.00 191.95 L241.20 195.76 L241.40 206.33 L241.60 156.91 L241.80 217.11 L242.00 207.75 L242.20 180.15 L242.40 187.74 L242.60 171.00 L242.80 187.84 L243.00 184.38 L243.20 201.82 L243.40 210.50 L243.60 175.14 L243.80 217.23 L244.00 193.29 L244.20 196.20 L244.40 190.12 L244.60 201.01 L244.80 205.43 L245.00 187.12 L245.20 231.74 L245.40 203.19 L245.60 222.23 L245.80 211.79 L246.00 205.27 L246.20 221.84 L246.40 206.36 L246.60 185.39 L246.80 224.45 L247.00 229.97 L247.20 203.16 L247.40 210.20 L247.60 206.16 L247.80 207.87 L248.00 210.59 L248.20 201.58 L248.40 211.68 L248.60 202.83 L248.80 182.15 L249.00 219.24 L249.20 185.34 L249.40 178.95 L249.60 171.57 L249.80 197.90 L250.00 188.07 L250.20 191.10 L250.40 181.83 L250.60 233.65 L250.80 193.51 L251.00 213.73 L251.20 188.90 L251.40 215.54 L251.60 180.55 L251.80 180.85 L252.00 202.79 L252.20 212.84 L252.40 198.49 L252.60 215.00 L252.80 225.28 L253.00 228.31 L253.20 195.12 L253.40 213.32 L253.60 179.90 L253.80 218.32 L254.00 191.96 L254.20 213.29 L254.40 193.44 L254.60 206.02 L254.80 203.30 L255.00 227.92 L255.20 224.38 L255.40 192.11 L255.60 210.08 L255.80 219.06 L256.00 177.46 L256.20 204.17 L256.40 232.76 L256.60 211.31 L256.80 196.80 L257.00 214.24 L257.20 200.99 L257.40 203.40 L257.60 220.47 L257.80 225.15 L258.00 202.84 L258.20 182.58 L258.40 212.38 L258.60 232.20 L258.80 233.31 L259.00 234.01 L259.20 210.50 L259.40 212.36 L259.60 223.75 L259.80 200.15 L260.00 215.60 L260.20 213.10 L260.40 210.03 L260.60 232.77 L260.80 210.84 L261.00 198.85 L261.20 231.14 L261.40 196.59 L261.60 215.21 L261.80 230.07 L262.00 189.39 L262.20 215.78 L262.40 177.58 L262.60 233.71 L262.80 220.22 L263.00 225.22 L263.20 208.77 L263.40 235.97 L263.60 221.50 L263.80 207.66 L264.00 249.85 L264.20 171.36 L264.40 240.96 L264.60 201.08 L264.80 190.17 L265.00 202.36 L265.20 191.26 L265.40 226.81 L265.60 171.52 L265.80 164.09 L266.00 204.33 L266.20 226.04 L266.40 229.84 L266.60 168.61 L266.80 256.76 L267.00 196.14 L267.20 263.76 L267.40 209.58 L267.60 226.08 L267.80 177.80 L268.00 265.35 L268.20 248.27 L268.40 213.46 L268.60 232.87 L268.80 209.87 L269.00 201.19 L269.20 238.17 L269.40 229.19 L269.60 255.78 L269.80 224.69 L270.00 265.66 L270.20 275.73 L270.40 242.39 L270.60 247.64 L270.80 217.57 L271.00 188.95 L271.20 215.52 L271.40 232.16 L271.60 216.70 L271.80 262.12 L272.00 221.14 L272.20 182.73 L272.40 265.07 L272.60 195.28 L272.80 258.04 L273.00 251.75 L273.20 209.82 L273.40 242.52 L273.60 220.18 L273.80 208.02 L274.00 247.40 L274.20 210.94 L274.40 221.03 L274.60 256.19 L274.80 197.20 L275.00 212.90 L275.20 196.38 L275.40 263.26 L275.60 208.32 L275.80 241.04 L276.00 223.75 L276.20 210.08 L276.40 222.22 L276.60 244.48 L276.80 220.92 L277.00 268.93 L277.20 261.10 L277.40 206.45 L277.60 273.40 L277.80 245.96 L278.00 249.85 L278.20 247.68 L278.40 257.61 L278.60 251.91 L278.80 242.98 L279.00 253.88 L279.20 280.26 L279.40 231.84 L279.60 238.84 L279.80 267.18 L280.00 199.36 L280.20 243.83 L280.40 236.58 L280.60 271.66 L280.80 253.44 L281.00 217.70 L281.20 255.94 L281.40 282.92 L281.60 193.81 L281.80 192.58 L282.00 279.03 L282.20 250.17 L282.40 249.91 L282.60 208.11 L282.80 231.57 L283.00 219.69 L283.20 234.73 L283.40 202.95 L283.60 220.40 L283.80 209.56 L284.00 240.15 L284.20 208.86 L284.40 165.46 L284.60 207.55 L284.80 196.72 L285.00 234.90 L285.20 184.64 L285.40 205.89 L285.60 227.55 L285.80 216.87 L286.00 228.56 L286.20 258.62 L286.40 203.01 L286.60 241.30 L286.80 241.96 L287.00 280.44 L287.20 235.51 L287.40 246.03 L287.60 231.58 L287.80 228.25 L288.00 244.43 L288.20 278.01 L288.40 227.89 L288.60 213.54 L288.80 264.48 L289.00 261.25 L289.20 240.01 L289.40 219.12 L289.60 239.07 L289.80 260.11 L290.00 223.90 L290.20 239.81 L290.40 245.56 L290.60 266.82 L290.80 226.55 L291.00 245.56 L291.20 288.00 L291.40 231.11 L291.60 234.55 L291.80 212.12 L292.00 224.65 L292.20 289.39 L292.40 260.97 L292.60 217.31 L292.80 269.82 L293.00 228.20 L293.20 221.66 L293.40 297.59 L293.60 236.21 L293.80 272.00 L294.00 252.95 L294.20 269.44 L294.40 206.30 L294.60 298.49 L294.80 297.06 L295.00 266.03 L295.20 252.51 L295.40 218.59 L295.60 197.07 L295.80 241.14 L296.00 256.25 L296.20 288.33 L296.40 280.88 L296.60 244.44 L296.80 224.19 L297.00 249.01 L297.20 187.87 L297.40 252.91 L297.60 206.30 L297.80 205.27 L298.00 190.74 L298.20 255.50 L298.40 234.08 L298.60 269.48 L298.80 221.78 L299.00 228.65 L299.20 191.01 L299.40 222.52 L299.60 239.84 L299.80 178.06 L300.00 206.47 L300.20 240.99 L300.40 174.37 L300.60 200.07 L300.80 253.74 L301.00 262.15 L301.20 208.30 L301.40 246.75 L301.60 244.30 L301.80 197.43 L302.00 228.78 L302.20 256.23 L302.40 203.27 L302.60 253.90 L302.80 189.47 L303.00 235.41 L303.20 199.01 L303.40 241.44 L303.60 206.86 L303.80 207.05 L304.00 244.54 L304.20 165.42 L304.40 230.28 L304.60 208.78 L304.80 160.00 L305.00 199.81 L305.20 229.24 L305.40 207.68 L305.60 246.13 L305.80 209.95 L306.00 169.24 L306.20 201.36 L306.40 214.22 L306.60 206.48 L306.80 211.58 L307.00 246.79 L307.20 260.58 L307.40 262.98 L307.60 237.43 L307.80 258.14 L308.00 248.90 L308.20 254.77 L308.40 249.78 L308.60 264.45 L308.80 248.79 L309.00 234.96 L309.20 213.05 L309.40 244.06 L309.60 247.80 L309.80 238.38 L310.00 281.23 L310.20 225.19 L310.40 217.84 L310.60 253.65 L310.80 246.30 L311.00 250.79 L311.20 253.37 L311.40 239.97 L311.60 231.53 L311.80 261.33 L312.00 257.18 L312.20 205.43 L312.40 256.08 L312.60 206.92 L312.80 275.10 L313.00 245.08 L313.20 278.80 L313.40 234.56 L313.60 237.03 L313.80 251.36 L314.00 261.26 L314.20 242.38 L314.40 246.55 L314.60 211.36 L314.80 261.61 L315.00 244.82 L315.20 245.25 L315.40 268.35 L315.60 243.04 L315.80 254.73 L316.00 233.79 L316.20 267.54 L316.40 266.11 L316.60 222.77 L316.80 283.41 L317.00 258.18 L317.20 277.39 L317.40 202.18 L317.60 259.45 L317.80 264.74 L318.00 230.96 L318.20 268.57 L318.40 277.15 L318.60 267.43 L318.80 264.83 L319.00 222.96 L319.20 247.86 L319.40 189.91 L319.60 262.33 L319.80 250.12 L320.00 288.15 L320.20 296.79 L320.40 230.84 L320.60 224.48 L320.80 244.05 L321.00 252.49 L321.20 264.27 L321.40 199.75 L321.60 269.95 L321.80 252.84 L322.00 281.50 L322.20 320.99 L322.40 322.40 L322.60 310.26 L322.80 273.02 L323.00 221.38 L323.20 275.92 L323.40 226.25 L323.60 263.62 L323.80 283.83 L324.00 203.97 L324.20 214.20 L324.40 298.69 L324.60 196.98 L324.80 213.89 L325.00 277.41 L325.20 253.57 L325.40 246.03 L325.60 208.98 L325.80 244.49 L326.00 242.60 L326.20 213.83 L326.40 251.84 L326.60 285.83 L326.80 245.09 L327.00 279.17 L327.20 298.70 L327.40 269.24 L327.60 239.29 L327.80 241.69 L328.00 239.09 L328.20 244.37 L328.40 243.83 L328.60 211.06 L328.80 254.84 L329.00 246.43 L329.20 259.92 L329.40 268.33 L329.60 272.46 L329.80 266.63 L330.00 255.57 L330.20 222.92 L330.40 257.13 L330.60 291.40 L330.80 198.60 L331.00 241.37 L331.20 252.82 L331.40 269.37 L331.60 250.01 L331.80 266.42 L332.00 228.25 L332.20 261.92 L332.40 214.46 L332.60 253.03 L332.80 291.74 L333.00 305.72 L333.20 210.21 L333.40 289.57 L333.60 245.50 L333.80 267.98 L334.00 290.26 L334.20 268.80 L334.40 265.64 L334.60 237.26 L334.80 286.41 L335.00 236.11 L335.20 279.38 L335.40 299.21 L335.60 318.35 L335.80 216.71 L336.00 290.72 L336.20 309.27 L336.40 243.19 L336.60 228.97 L336.80 280.05 L337.00 250.67 L337.20 273.64 L337.40 260.26 L337.60 272.98 L337.80 189.51 L338.00 206.76 L338.20 228.26 L338.40 207.96 L338.60 272.54 L338.80 236.58 L339.00 274.19 L339.20 218.98 L339.40 200.76 L339.60 195.81 L339.80 227.26 L340.00 201.77 L340.20 181.98 L340.40 192.29 L340.60 224.00 L340.80 227.25 L341.00 221.44 L341.20 234.65 L341.40 225.34 L341.60 225.34 L341.80 198.82 L342.00 179.96 L342.20 280.47 L342.40 203.21 L342.60 208.21 L342.80 227.50 L343.00 229.41 L343.20 238.33 L343.40 259.68 L343.60 248.22 L343.80 238.98 L344.00 186.92 L344.20 251.49 L344.40 279.86 L344.60 254.49 L344.80 267.20 L345.00 242.62 L345.20 289.71 L345.40 228.16 L345.60 237.32 L345.80 257.20 L346.00 233.46 L346.20 240.97 L346.40 250.10 L346.60 286.00 L346.80 280.62 L347.00 227.84 L347.20 280.20 L347.40 252.12 L347.60 235.65 L347.80 240.14 L348.00 218.71 L348.20 238.65 L348.40 291.14 L348.60 263.04 L348.80 304.38 L349.00 308.01 L349.20 252.35 L349.40 266.42 L349.60 256.63 L349.80 305.35 L350.00 286.33 L350.20 300.09 L350.40 257.87 L350.60 246.44 L350.80 278.97 L351.00 232.98 L351.20 266.00 L351.40 255.55 L351.60 300.95 L351.80 284.37 L352.00 304.55 L352.20 284.00 L352.40 253.80 L352.60 317.65 L352.80 265.56 L353.00 257.45 L353.20 263.81 L353.40 293.76 L353.60 271.95 L353.80 275.52 L354.00 287.87 L354.20 264.38 L354.40 281.48 L354.60 281.13 L354.80 267.48 L355.00 282.18 L355.20 275.66 L355.40 207.84 L355.60 249.27 L355.80 261.16 L356.00 224.64 L356.20 257.66 L356.40 309.36 L356.60 247.16 L356.80 192.54 L357.00 289.14 L357.20 238.24 L357.40 239.38 L357.60 202.22 L357.80 266.09 L358.00 249.76 L358.20 255.49 L358.40 280.70 L358.60 295.00 L358.80 309.42 L359.00 261.08 L359.20 235.06 L359.40 292.30 L359.60 207.10 L359.80 271.88 L360.00 227.24 L360.20 243.54 L360.40 328.68 L360.60 256.11 L360.80 301.96 L361.00 298.91 L361.20 298.28 L361.40 241.48 L361.60 236.66 L361.80 339.61 L362.00 261.19 L362.20 291.62 L362.40 230.26 L362.60 243.54 L362.80 330.96 L363.00 255.93 L363.20 338.02 L363.40 323.52 L363.60 227.39 L363.80 278.94 L364.00 215.31 L364.20 304.19 L364.40 241.72 L364.60 280.39 L364.80 207.09 L365.00 245.92 L365.20 276.09 L365.40 308.79 L365.60 260.34 L365.80 290.50 L366.00 258.64 L366.20 182.63 L366.40 264.50 L366.60 178.65 L366.80 172.66 L367.00 222.15 L367.20 195.85 L367.40 261.01 L367.60 254.03 L367.80 191.69 L368.00 231.25 L368.20 237.09 L368.40 260.69 L368.60 223.98 L368.80 203.52 L369.00 199.50 L369.20 210.37 L369.40 265.02 L369.60 252.64 L369.80 213.98 L370.00 247.85 L370.20 242.13 L370.40 293.63 L370.60 187.71 L370.80 264.49 L371.00 217.38 L371.20 256.70 L371.40 188.17 L371.60 215.51 L371.80 293.95 L372.00 185.67 L372.20 259.42 L372.40 294.87 L372.60 251.16 L372.80 204.52 L373.00 270.35 L373.20 235.71 L373.40 270.47 L373.60 218.80 L373.80 261.99 L374.00 270.94 L374.20 210.49 L374.40 216.81 L374.60 170.68 L374.80 229.63 L375.00 205.59 L375.20 284.37 L375.40 235.94 L375.60 280.91 L375.80 258.14 L376.00 224.90 L376.20 238.01 L376.40 181.10 L376.60 304.18 L376.80 166.39 L377.00 209.59 L377.20 235.47 L377.40 218.71 L377.60 206.87 L377.80 255.16 L378.00 220.27 L378.20 226.40 L378.40 239.80 L378.60 213.12 L378.80 254.45 L379.00 235.53 L379.20 257.52 L379.40 193.16 L379.60 241.37 L379.80 279.72 L380.00 231.50 L380.20 271.36 L380.40 270.46 L380.60 291.97 L380.80 249.54 L381.00 224.17 L381.20 302.37 L381.40 306.12 L381.60 217.04 L381.80 245.11 L382.00 211.52 L382.20 209.13 L382.40 259.09 L382.60 200.09 L382.80 175.55 L383.00 174.69 L383.20 273.32 L383.40 201.41 L383.60 183.71 L383.80 193.47 L384.00 225.62 L384.20 214.48 L384.40 203.66 L384.60 176.80 L384.80 214.07 L385.00 142.76 L385.20 197.61 L385.40 197.33 L385.60 249.07 L385.80 215.37 L386.00 255.24 L386.20 260.60 L386.40 198.04 L386.60 233.99 L386.80 194.46 L387.00 233.57 L387.20 244.02 L387.40 236.18 L387.60 250.00 L387.80 224.39 L388.00 170.74 L388.20 258.82 L388.40 238.58 L388.60 269.56 L388.80 307.17 L389.00 312.85 L389.20 291.55 L389.40 265.80 L389.60 247.51 L389.80 307.30 L390.00 256.70 L390.20 261.30 L390.40 269.89 L390.60 286.03 L390.80 246.53 L391.00 234.06 L391.20 278.45 L391.40 323.76 L391.60 268.08 L391.80 295.49 L392.00 326.44 L392.20 213.94 L392.40 278.85 L392.60 305.19 L392.80 246.72 L393.00 267.31 L393.20 273.51 L393.40 344.31 L393.60 222.91 L393.80 299.31 L394.00 329.64 L394.20 291.96 L394.40 192.80 L394.60 269.52 L394.80 214.88 L395.00 241.76 L395.20 204.62 L395.40 286.92 L395.60 215.87 L395.80 228.35 L396.00 310.54 L396.20 291.16 L396.40 173.02 L396.60 250.04 L396.80 224.00 L397.00 285.62 L397.20 229.18" stroke="#000" stroke-width="0.9" fill="none" stroke-linejoin="miter"/>
<path d="M109.70 135.0V199.4 M114.00 113.6V191.3 M119.00 106.0V190.1 M116.00 139.0V190.7 M125.00 146.0V191.0 M130.00 150.7V205.0 M149.70 86.7V148.8 M152.30 70.7V139.4 M157.00 59.3V132.9 M164.30 78.7V165.2 M153.70 86.0V134.9 M198.70 69.2V138.5 M217.00 65.5V152.6 M208.70 87.2V145.8 M202.30 88.0V140.1 M211.90 100.0V148.5 M220.50 105.0V155.7 M239.00 128.6V186.0 M249.40 118.6V198.4 M250.00 143.0V199.2 M258.60 154.0V212.2 M264.00 161.0V221.5 M300.90 150.0V228.2 M305.00 155.7V232.0 M319.00 190.0V247.0 M338.20 152.0V245.8 M340.30 119.0V247.2 M332.00 177.0V242.5 M350.90 158.6V252.4 M362.00 157.0V253.7 M373.70 181.0V254.4 M382.00 163.0V254.8 M385.60 132.0V255.0 M387.70 134.6V255.0 M91.50 242.4V318.0 M92.30 242.7V315.6 M105.60 217.6V258.0 M137.80 216.6V281.7 M180.00 253.6V307.0 M242.00 191.4V251.0 M256.60 209.2V263.0 M271.00 238.6V318.0 M275.40 240.0V316.0 M296.60 227.3V291.0 M318.00 245.0V306.0 M324.40 249.4V342.6 M334.50 243.3V335.4 M341.80 248.2V366.9 M347.80 252.0V350.0 M367.20 254.1V367.5 M374.50 254.5V367.5 M382.50 254.8V350.0 M386.60 255.0V342.6" stroke="#000" stroke-width="1.0" fill="none"/>
<path d="M75.80 45.50V368.00 M76.60 45.50V300.00 M77.50 45.50V290.00 M78.30 45.50V270.00 M79.20 58.00V348.00 M80.60 54.00V268.00 M82.90 54.00V368.00 M81.80 80.00V280.00 M85.30 106.00V300.00 M87.70 150.00V332.00" stroke="#000" stroke-width="1.2" fill="none"/>
<g font-family='"Liberation Sans", sans-serif' font-size="17.4" fill="#000"><text x="59.5" y="389.7" text-anchor="middle">4000</text><text x="133.0" y="389.7" text-anchor="middle">5000</text><text x="206.5" y="389.7" text-anchor="middle">6000</text><text x="280.0" y="389.7" text-anchor="middle">7000</text><text x="353.5" y="389.7" text-anchor="middle">8000</text><text x="427.0" y="389.7" text-anchor="middle">9000</text><text x="500.5" y="389.7" text-anchor="middle">10000</text><text x="574.0" y="389.7" text-anchor="middle">11000</text><text x="145.9" y="37.5" text-anchor="middle">2000</text><text x="241.0" y="37.5" text-anchor="middle">2500</text><text x="336.2" y="37.5" text-anchor="middle">3000</text><text x="431.3" y="37.5" text-anchor="middle">3500</text><text x="526.4" y="37.5" text-anchor="middle">4000</text><text x="54.8" y="367.9" text-anchor="end">0.0</text><text x="54.8" y="309.5" text-anchor="end">0.5</text><text x="54.8" y="245.2" text-anchor="end">1.0</text><text x="54.8" y="180.3" text-anchor="end">1.5</text><text x="54.8" y="116.4" text-anchor="end">2.0</text><text x="54.8" y="55.6" text-anchor="end">2.5</text></g>
<text x="217" y="409" font-family='"Liberation Sans", sans-serif' font-size="17.4" textLength="197" lengthAdjust="spacingAndGlyphs">Observed Wavelength [Å]</text>
<text x="171" y="18.3" font-family='"Liberation Sans", sans-serif' font-size="17.4" textLength="244" lengthAdjust="spacingAndGlyphs">Rest Wavelength [Å] at z=1.588</text>
<text transform="translate(16.6,320.5) rotate(-90)" font-family='"Liberation Sans", sans-serif' font-size="17.4">Flux [erg cm<tspan font-size="11" dy="-7">−2</tspan><tspan dy="7"> s</tspan><tspan font-size="11" dy="-7">−1</tspan><tspan dy="7"> Å</tspan><tspan font-size="11" dy="-7">−1</tspan><tspan dy="7">]</tspan><tspan dx="1.5"> x</tspan><tspan dx="1.5"> 10</tspan><tspan font-size="11" dy="-7" dx="4.5">18</tspan></text>
<text x="84.3" y="341.6" font-family='"Liberation Sans", sans-serif' font-size="17.4">observed..</text>
<text x="170.6" y="341.6" font-family='"Liberation Sans", sans-serif' font-size="17.4" fill="rgb(88,165,80)">g</text>
<text x="229.5" y="341.6" font-family='"Liberation Sans", sans-serif' font-size="17.4" fill="rgb(235,155,40)">r</text>
<text x="309.5" y="341.6" font-family='"Liberation Sans", sans-serif' font-size="17.4" fill="rgb(205,38,38)">i</text>
<text x="412.2" y="341.6" font-family='"Liberation Sans", sans-serif' font-size="17.4" fill="rgb(135,40,160)">z</text>
<text transform="translate(229.5,72.0) rotate(25.6)" font-family='"Liberation Sans", sans-serif' font-size="17.4">T=13,500 blackbody</text>
<text transform="translate(533.3,174) rotate(-78)" font-family='"Liberation Sans", sans-serif' font-size="17.4" font-style="italic" fill="rgb(58,72,198)">restframe U</text></svg>
</body></html>
